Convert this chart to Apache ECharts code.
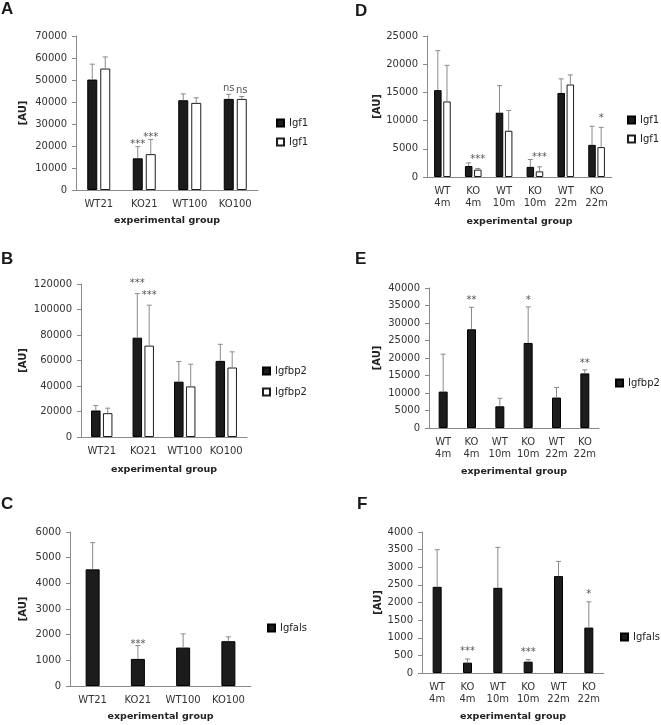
<!DOCTYPE html>
<html>
<head>
<meta charset="utf-8">
<script src="https://cdn.jsdelivr.net/npm/echarts@6/dist/echarts.min.js"></script>
<style>
html, body { margin: 0; padding: 0; background: #fff; }
#chart { width: 661px; height: 725px; }
</style>
</head>
<body>
<div id="chart"></div>
<script>
// categories
var groupsAge = ['WT21', 'KO21', 'WT100', 'KO100'];
var groupsTime = ['WT\n4m', 'KO\n4m', 'WT\n10m', 'KO\n10m', 'WT\n22m', 'KO\n22m'];

// A - Igf1, age groups
var igf1AgeDark = [50200, 14400, 40800, 41400];
var igf1AgeDarkSd = [7000, 5300, 2900, 2100];
var igf1AgeDarkSig = ['', '***', '', 'ns'];
var igf1AgeLight = [55200, 16300, 39600, 41400];
var igf1AgeLightSd = [5300, 6700, 2300, 1100];
var igf1AgeLightSig = ['', '***', '', 'ns'];

// B - Igfbp2, age groups
var igfbp2AgeDark = [20800, 77900, 43400, 59700];
var igfbp2AgeDarkSd = [3900, 34600, 15800, 13000];
var igfbp2AgeDarkSig = ['', '***', '', ''];
var igfbp2AgeLight = [18700, 71700, 39700, 54500];
var igfbp2AgeLightSd = [3900, 31700, 17400, 12300];
var igfbp2AgeLightSig = ['', '***', '', ''];

// C - Igfals, age groups
var igfalsAge = [4544, 1055, 1497, 1745];
var igfalsAgeSd = [1042, 520, 534, 169];
var igfalsAgeSig = ['', '***', '', ''];

// D - Igf1, time course
var igf1TimeDark = [15400, 1950, 11400, 1800, 14900, 5700];
var igf1TimeDarkSd = [7000, 550, 4800, 1300, 2500, 3300];
var igf1TimeDarkSig = ['', '', '', '', '', ''];
var igf1TimeLight = [13400, 1300, 8200, 1000, 16400, 5300];
var igf1TimeLightSd = [6400, 200, 3600, 800, 1700, 3500];
var igf1TimeLightSig = ['', '***', '', '***', '', '*'];

// E - Igfbp2, time course
var igfbp2Time = [10400, 28200, 6200, 24300, 8700, 15600];
var igfbp2TimeSd = [10700, 6300, 2300, 10300, 2900, 1000];
var igfbp2TimeSig = ['', '**', '', '*', '', '**'];

// F - Igfals, time course
var igfalsTime = [2445, 294, 2417, 322, 2749, 1289];
var igfalsTimeSd = [1053, 104, 1147, 57, 417, 730];
var igfalsTimeSig = ['', '***', '', '***', '', '*'];

var FONT = '"DejaVu Sans", Verdana, sans-serif';
var AXIS_GRAY = '#8a8a8a';
var TEXT = '#333';

var grid = [], xAxis = [], yAxis = [], series = [], legend = [], title = [];

var darkStyle = { color: '#1c1c1c', borderColor: '#000', borderWidth: 1 };
var lightStyle = { color: '#fff', borderColor: '#1c1c1c', borderWidth: 1 };

function errorBars(offset, starGap, sig) {
    return function (params, api) {
        var x = api.value(0), v = api.value(1), sd = api.value(2);
        var p0 = api.coord([x, v]);
        var p1 = api.coord([x, v + sd]);
        var cx = p0[0] + offset;
        var kids = [
            { type: 'line', shape: { x1: cx, y1: p0[1], x2: cx, y2: p1[1] },
              style: { stroke: '#8a8a8a', lineWidth: 1 } },
            { type: 'line', shape: { x1: cx - 2.5, y1: p1[1], x2: cx + 2.5, y2: p1[1] },
              style: { stroke: '#8a8a8a', lineWidth: 1 } }
        ];
        var s = sig[params.dataIndex];
        if (s) {
            // asterisks sit high in the line box, lower-case "ns" sits low
            var shift = s.charAt(0) === '*' ? 2.5 : -1.5;
            kids.push({ type: 'text', x: cx, y: p1[1] - starGap + shift,
                style: { text: s, textAlign: 'center', textVerticalAlign: 'middle',
                         fill: '#555', font: '10px ' + FONT } });
        }
        return { type: 'group', children: kids };
    };
}

function addPanel(p) {
    var gi = grid.length;
    grid.push({ left: p.left, top: p.top, width: p.width, height: p.height });
    xAxis.push({
        type: 'category', gridIndex: gi, data: p.cats,
        name: 'experimental group', nameLocation: 'middle', nameGap: p.xNameGap,
        nameTextStyle: { fontFamily: FONT, fontWeight: 'bold', fontSize: 9.5, color: '#222' },
        axisLine: { lineStyle: { color: AXIS_GRAY } },
        axisTick: { length: 4, lineStyle: { color: AXIS_GRAY } },
        axisLabel: { interval: 0, margin: 8, fontFamily: FONT, fontSize: 10, lineHeight: 12, color: TEXT }
    });
    yAxis.push({
        type: 'value', gridIndex: gi, min: 0, max: p.max, interval: p.interval,
        name: '[AU]', nameLocation: 'middle', nameRotate: 90, nameGap: p.yNameGap,
        nameTextStyle: { fontFamily: FONT, fontWeight: 'bold', fontSize: 10, color: '#222' },
        axisLine: { show: true, lineStyle: { color: AXIS_GRAY } },
        axisTick: { show: true, length: 4, lineStyle: { color: AXIS_GRAY } },
        splitLine: { show: false },
        axisLabel: { margin: 9, fontFamily: FONT, fontSize: 10, color: TEXT,
                     formatter: function (v) { return String(v); } }
    });
    var n = p.bars.length;
    var names = [];
    p.bars.forEach(function (b, i) {
        var off = (i - (n - 1) / 2) * p.barWidth * (1 + p.gap);
        names.push(b.name);
        series.push({
            type: 'bar', name: b.name, xAxisIndex: gi, yAxisIndex: gi,
            data: b.values, barWidth: p.barWidth, barGap: (p.gap * 100) + '%',
            itemStyle: b.style, z: 2
        });
        series.push({
            type: 'custom', xAxisIndex: gi, yAxisIndex: gi, z: 3, silent: true,
            data: b.values.map(function (v, k) { return [k, v, b.sd[k]]; }),
            renderItem: errorBars(off, p.starGap, b.sig)
        });
    });
    legend.push({
        orient: 'vertical', left: p.legendLeft, top: p.legendTop, padding: 0,
        itemWidth: 7, itemHeight: 7, itemGap: p.legendGap, icon: 'rect',
        selectedMode: false, data: names,
        formatter: function (name) { return name.split('|')[0]; },
        textStyle: { fontFamily: FONT, fontSize: 10, lineHeight: 12, color: '#222' }
    });
    title.push({
        text: p.letter, left: p.letterLeft, top: p.letterTop, padding: 0,
        textStyle: { fontFamily: '"Liberation Sans", Arial, sans-serif', fontWeight: 'bold', fontSize: 17, color: '#1a1a1a' }
    });
}

addPanel({
    letter: 'A', letterLeft: 1, letterTop: 1,
    left: 76, top: 36, width: 182, height: 154, max: 70000, interval: 10000,
    cats: groupsAge, xNameGap: 26, yNameGap: 48, barWidth: 10, gap: 0.3, starGap: 4.5,
    legendLeft: 276, legendTop: 117, legendGap: 7,
    bars: [
        { name: 'Igf1|A1', values: igf1AgeDark, sd: igf1AgeDarkSd, sig: igf1AgeDarkSig, style: darkStyle },
        { name: 'Igf1|A2', values: igf1AgeLight, sd: igf1AgeLightSd, sig: igf1AgeLightSig, style: lightStyle }
    ]
});

addPanel({
    letter: 'B', letterLeft: 1, letterTop: 251,
    left: 81, top: 284, width: 166, height: 153, max: 120000, interval: 20000,
    cats: groupsAge, xNameGap: 27.5, yNameGap: 53, barWidth: 9.5, gap: 0.25, starGap: 12.5,
    legendLeft: 262, legendTop: 365, legendGap: 9,
    bars: [
        { name: 'Igfbp2|B1', values: igfbp2AgeDark, sd: igfbp2AgeDarkSd, sig: igfbp2AgeDarkSig, style: darkStyle },
        { name: 'Igfbp2|B2', values: igfbp2AgeLight, sd: igfbp2AgeLightSd, sig: igfbp2AgeLightSig, style: lightStyle }
    ]
});

addPanel({
    letter: 'C', letterLeft: 1, letterTop: 496,
    left: 70, top: 532, width: 181, height: 154, max: 6000, interval: 1000,
    cats: groupsAge, xNameGap: 26, yNameGap: 42, barWidth: 14, gap: 0, starGap: 4,
    legendLeft: 267, legendTop: 622, legendGap: 7,
    bars: [
        { name: 'Igfals|C1', values: igfalsAge, sd: igfalsAgeSd, sig: igfalsAgeSig, style: darkStyle }
    ]
});

addPanel({
    letter: 'D', letterLeft: 355, letterTop: 3,
    left: 427, top: 36, width: 185, height: 141, max: 25000, interval: 5000,
    cats: groupsTime, xNameGap: 40, yNameGap: 37, barWidth: 7.5, gap: 0.22, starGap: 11.5,
    legendLeft: 627, legendTop: 114, legendGap: 7,
    bars: [
        { name: 'Igf1|D1', values: igf1TimeDark, sd: igf1TimeDarkSd, sig: igf1TimeDarkSig, style: darkStyle },
        { name: 'Igf1|D2', values: igf1TimeLight, sd: igf1TimeLightSd, sig: igf1TimeLightSig, style: lightStyle }
    ]
});

addPanel({
    letter: 'E', letterLeft: 355, letterTop: 251,
    left: 429, top: 288, width: 170, height: 140, max: 40000, interval: 5000,
    cats: groupsTime, xNameGap: 38.5, yNameGap: 47, barWidth: 9, gap: 0, starGap: 9,
    legendLeft: 615, legendTop: 377, legendGap: 7,
    bars: [
        { name: 'Igfbp2|E1', values: igfbp2Time, sd: igfbp2TimeSd, sig: igfbp2TimeSig, style: darkStyle }
    ]
});

addPanel({
    letter: 'F', letterLeft: 357, letterTop: 496,
    left: 422, top: 532, width: 182, height: 141, max: 4000, interval: 500,
    cats: groupsTime, xNameGap: 39, yNameGap: 39, barWidth: 9, gap: 0, starGap: 10,
    legendLeft: 620, legendTop: 631, legendGap: 7,
    bars: [
        { name: 'Igfals|F1', values: igfalsTime, sd: igfalsTimeSd, sig: igfalsTimeSig, style: darkStyle }
    ]
});

var chart = echarts.init(document.getElementById('chart'));
chart.setOption({
    animation: false,
    backgroundColor: '#fff',
    title: title,
    grid: grid,
    xAxis: xAxis,
    yAxis: yAxis,
    legend: legend,
    series: series
});
</script>
</body>
</html>
